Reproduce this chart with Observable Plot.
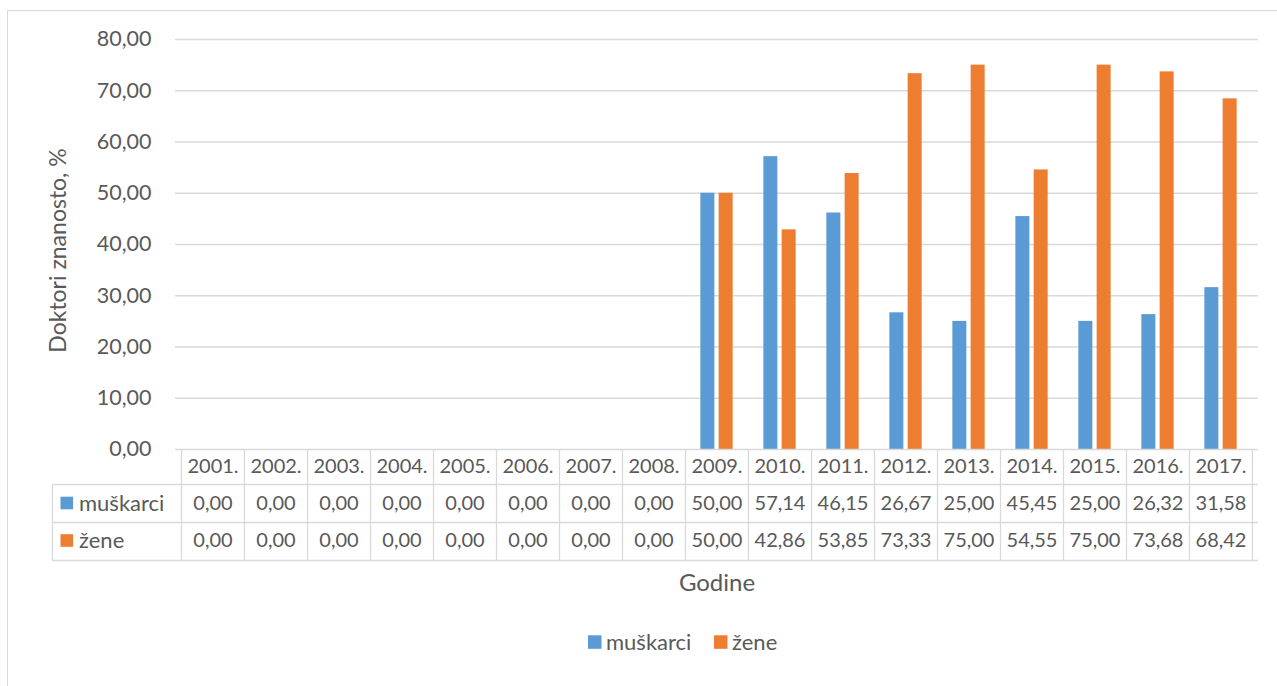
<!DOCTYPE html>
<html>
<head>
<meta charset="utf-8">
<script src="https://cdn.jsdelivr.net/npm/d3@7"></script>
<script src="https://cdn.jsdelivr.net/npm/@observablehq/plot@0.6"></script>
<style>
  html, body { margin: 0; padding: 0; background: #fff; overflow: hidden; }
  #wrap { position: relative; width: 1277px; height: 686px; overflow: hidden; }
  #frame { position: absolute; left: 7px; top: 10px; width: 1400px; height: 800px; border: 1px solid #d9d9d9; box-sizing: border-box; }
  #chart { position: absolute; left: 0; top: 0; }
</style>
</head>
<body>
<div id="wrap"><div id="frame"></div><div id="chart"></div></div>
<script>
// ---- data ----
const years = ["2001.","2002.","2003.","2004.","2005.","2006.","2007.","2008.","2009.","2010.","2011.","2012.","2013.","2014.","2015.","2016.","2017."];
const muskarci = [0,0,0,0,0,0,0,0,50.00,57.14,46.15,26.67,25.00,45.45,25.00,26.32,31.58];
const zene     = [0,0,0,0,0,0,0,0,50.00,42.86,53.85,73.33,75.00,54.55,75.00,73.68,68.42];
const seriesNames = ["muškarci","žene"];
const seriesColors = ["#5b9bd5","#ed7d31"];
const yTicks = [0,10,20,30,40,50,60,70,80];
const yTitle = "Doktori znanosto, %";
const xTitle = "Godine";

// ---- layout / style ----
const W = 1277, H = 686;
const mL = 175, mR = 19, mT = 39, mB = 237;
const GRID = "#d9d9d9", TXT = "#595959";
const FONT = "Lato, 'Open Sans', sans-serif";
const fmt = v => d3.format(".2f")(v).replace(".", ",");

const bw = (W - mL - mR) / years.length;
const barW = 14.7, gap = 3.6;
const blueInsetL = bw / 2 - gap / 2 - barW, blueInsetR = bw / 2 + gap / 2;
const orInsetL = bw / 2 + gap / 2, orInsetR = bw / 2 - gap / 2 - barW;

const rows = seriesNames.map((s, k) => ({name: s, color: seriesColors[k], values: k === 0 ? muskarci : zene}));
const barData = seriesNames.map((s, k) => years.map((y, i) => ({year: y, series: s, value: rows[k].values[i]})));

// row offsets (relative to bottom of the plot frame)
const rowEdges = [0, 35, 73, 111];
const rowMid = [17.5, 54, 91.5];

function tableGrid(index, scales, values, dims) {
  const x = scales.x;
  const bwid = typeof x.bandwidth === "function" ? x.bandwidth() : (x.bandwidth || bw);
  const top = dims.height - dims.marginBottom;
  const left = dims.marginLeft, right = dims.width - dims.marginRight;
  const labelLeft = 52.5;
  const g = d3.create("svg:g").attr("font-family", FONT).attr("text-anchor", "start");
  const lines = g.append("g").attr("stroke", GRID).attr("stroke-width", 1.3).attr("fill", "none");
  const ys = rowEdges.map(e => Math.round(top + e) + 0.5);
  lines.append("line").attr("x1", left).attr("x2", right).attr("y1", ys[0]).attr("y2", ys[0]);
  for (let r = 1; r < ys.length; r++) {
    lines.append("line").attr("x1", labelLeft).attr("x2", right).attr("y1", ys[r]).attr("y2", ys[r]);
  }
  const edges = years.map(y => x(y)).concat([x(years[years.length - 1]) + bwid]);
  edges.forEach(e => {
    const xe = Math.round(e) + 0.5;
    lines.append("line").attr("x1", xe).attr("x2", xe).attr("y1", ys[0]).attr("y2", ys[3]);
  });
  lines.append("line").attr("x1", labelLeft).attr("x2", labelLeft).attr("y1", ys[1]).attr("y2", ys[3]);
  // row labels
  rows.forEach((r, k) => {
    const cy = top + rowMid[k + 1];
    g.append("rect").attr("x", 60.5).attr("y", cy - 6.3).attr("width", 12.6).attr("height", 12.6).attr("fill", r.color);
    g.append("text").attr("x", 79).attr("y", cy).attr("dy", "0.35em").attr("text-anchor", "start")
      .attr("fill", TXT).attr("font-size", 22).text(r.name);
  });
  // legend
  const ly = top + 193;
  rows.forEach((r, k) => {
    g.append("rect").attr("x", k === 0 ? 588 : 714).attr("y", ly - 6.7).attr("width", 13.5).attr("height", 13.5).attr("fill", r.color);
    g.append("text").attr("x", k === 0 ? 606 : 732).attr("y", ly).attr("dy", "0.35em").attr("text-anchor", "start")
      .attr("fill", TXT).attr("font-size", 22).text(r.name);
  });
  return g.node();
}

const chart = Plot.plot({
  width: W, height: H,
  marginTop: mT, marginBottom: mB, marginLeft: mL, marginRight: mR,
  style: {fontFamily: FONT, fontSize: "21.5px", color: TXT, background: "transparent"},
  x: {type: "band", domain: years, paddingInner: 0, paddingOuter: 0, axis: null},
  y: {domain: [0, 80], ticks: yTicks, tickFormat: fmt, tickSize: 0, tickPadding: 24, label: null},
  color: {domain: seriesNames, range: seriesColors},
  marks: [
    Plot.ruleY(yTicks.filter(t => t > 0), {stroke: GRID, strokeWidth: 1.5}),
    Plot.barY(barData[0], {x: "year", y: "value", fill: "series", insetLeft: blueInsetL, insetRight: blueInsetR}),
    Plot.barY(barData[1], {x: "year", y: "value", fill: "series", insetLeft: orInsetL, insetRight: orInsetR}),
    tableGrid,
    Plot.text(years, {x: d => d, text: d => d, frameAnchor: "bottom", lineAnchor: "middle", dy: rowMid[0], fill: TXT, fontSize: 20}),
    Plot.text(years.map((y, i) => ({year: y, v: muskarci[i]})), {x: "year", text: d => fmt(d.v), frameAnchor: "bottom", lineAnchor: "middle", dy: rowMid[1], fill: TXT, fontSize: 20}),
    Plot.text(years.map((y, i) => ({year: y, v: zene[i]})), {x: "year", text: d => fmt(d.v), frameAnchor: "bottom", lineAnchor: "middle", dy: rowMid[2], fill: TXT, fontSize: 20}),
    Plot.text([xTitle], {text: d => d, frameAnchor: "bottom", lineAnchor: "middle", dy: 134, fill: TXT, fontSize: 24}),
    Plot.text([yTitle], {text: d => d, frameAnchor: "left", textAnchor: "middle", lineAnchor: "middle", rotate: -90, dx: -117, dy: 6, fill: TXT, fontSize: 23})
  ]
});
document.getElementById("chart").appendChild(chart);
</script>
</body>
</html>
